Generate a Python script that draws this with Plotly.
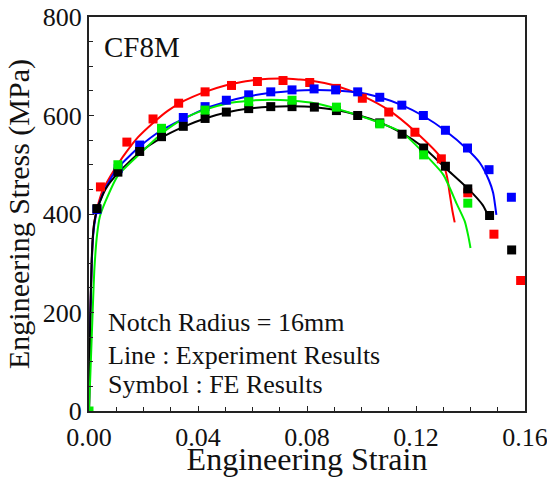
import plotly.graph_objects as go

# ---------------- Experiment (lines) ----------------
red_line_x = [0, 0.0005, 0.001, 0.0015, 0.002, 0.003, 0.005, 0.008, 0.0107, 0.014, 0.018, 0.0235, 0.029, 0.035, 0.0426, 0.05, 0.056, 0.062, 0.0712, 0.077, 0.081, 0.0908, 0.1003, 0.110, 0.1196, 0.1293, 0.1314, 0.1324, 0.1334, 0.1342]
red_line_y = [0, 190, 300, 360, 385, 412, 448, 478, 502, 528, 556, 585, 610, 630, 648, 661, 668, 673, 675, 673, 671, 660, 640, 611, 568, 513, 475, 440, 405, 383]

blue_line_x = [0, 0.0005, 0.001, 0.0015, 0.002, 0.003, 0.005, 0.008, 0.0106, 0.0186, 0.0266, 0.0346, 0.0426, 0.0504, 0.0586, 0.0667, 0.0745, 0.0828, 0.0905, 0.0986, 0.1067, 0.1148, 0.1227, 0.1308, 0.1389, 0.1434, 0.1468, 0.1483, 0.1495]
blue_line_y = [0, 190, 300, 355, 380, 408, 440, 472, 494, 537, 570, 593, 614, 628, 639, 646, 650, 652, 651, 647, 637, 621, 599, 569, 531, 504, 468, 443, 398]

black_line_x = [0, 0.0005, 0.001, 0.0015, 0.002, 0.003, 0.006, 0.0106, 0.0186, 0.0266, 0.0346, 0.0426, 0.0504, 0.0586, 0.0667, 0.0745, 0.0828, 0.0908, 0.0986, 0.1067, 0.1149, 0.1228, 0.1311, 0.139, 0.1445, 0.147]
black_line_y = [0, 200, 310, 360, 385, 410, 450, 483, 525, 555, 577, 594, 606, 614, 618, 619, 617, 611, 601, 586, 564, 535, 492, 452, 418, 390]

green_line_x = [0, 0.001, 0.002, 0.003, 0.004, 0.006, 0.0106, 0.0186, 0.0266, 0.0346, 0.0426, 0.0504, 0.0586, 0.0667, 0.0745, 0.0828, 0.0908, 0.1067, 0.1148, 0.1228, 0.130, 0.135, 0.1379, 0.1392, 0.140]
green_line_y = [0, 150, 290, 360, 395, 425, 478, 522, 563, 593, 612, 624, 630, 632, 630, 625, 614, 585, 566, 524, 480, 420, 385, 355, 331]

# ---------------- FE results (symbols) ----------------
red_fe_x = [0.0042, 0.0139, 0.0235, 0.0329, 0.0426, 0.0523, 0.0618, 0.0712, 0.081, 0.0908, 0.1003, 0.110, 0.1196, 0.1293, 0.139, 0.1486, 0.1584]
red_fe_y = [455, 546, 593, 625, 648, 661, 669, 671, 667, 655, 635, 607, 566, 512, 443, 359, 265]

blue_fe_x = [0.0029, 0.0107, 0.0186, 0.0266, 0.0346, 0.0426, 0.0504, 0.0586, 0.0667, 0.0745, 0.0826, 0.0905, 0.0986, 0.1067, 0.1148, 0.1227, 0.1308, 0.1389, 0.1468, 0.155]
blue_fe_y = [409, 492, 540, 572, 596, 618, 631, 642, 648, 652, 654, 652, 648, 637, 621, 600, 570, 534, 490, 434]

black_fe_x = [0.0029, 0.0106, 0.0186, 0.0266, 0.0346, 0.0426, 0.0504, 0.0586, 0.0667, 0.0745, 0.0827, 0.0908, 0.0986, 0.1067, 0.1149, 0.1228, 0.1308, 0.139, 0.147, 0.1551]
black_fe_y = [411, 485, 527, 557, 578, 594, 607, 614, 618, 618, 617, 610, 600, 585, 562, 534, 497, 451, 397, 327]

green_fe_x = [0, 0.0106, 0.0266, 0.0426, 0.0586, 0.0745, 0.0908, 0.1067, 0.1228, 0.139]
green_fe_y = [0, 500, 574, 611, 628, 631, 617, 583, 520, 422]

x_tick_vals = [0, 0.04, 0.08, 0.12, 0.16]
x_tick_text = ["0.00", "0.04", "0.08", "0.12", "0.16"]
y_tick_vals = [0, 200, 400, 600, 800]
y_tick_text = ["0", "200", "400", "600", "800"]

RED, BLUE, BLACK, GREEN = "#ff0000", "#0000ff", "#000000", "#00ee00"
FONT = "Liberation Serif, Times New Roman, serif"

fig = go.Figure()
for xs, ys, c in [(red_line_x, red_line_y, RED), (blue_line_x, blue_line_y, BLUE),
                  (black_line_x, black_line_y, BLACK), (green_line_x, green_line_y, GREEN)]:
    fig.add_trace(go.Scatter(x=xs, y=ys, mode="lines", line=dict(color=c, width=2, shape="spline", smoothing=0.6),
                             showlegend=False, hoverinfo="skip"))
for xs, ys, c in [(red_fe_x, red_fe_y, RED), (blue_fe_x, blue_fe_y, BLUE),
                  (black_fe_x, black_fe_y, BLACK), (green_fe_x, green_fe_y, GREEN)]:
    fig.add_trace(go.Scatter(x=xs, y=ys, mode="markers", marker=dict(symbol="square", size=9, color=c, line=dict(width=0)),
                             showlegend=False))

axis_common = dict(showgrid=False, zeroline=False, showline=True, linecolor="#222", linewidth=2, mirror=True,
                   ticks="inside", ticklen=5, tickwidth=1, tickcolor="#222", automargin=False,
                   ticklabeloverflow="allow",
                   tickfont=dict(family=FONT, size=26, color="#111"))

fig.update_xaxes(range=[0, 0.16], tickvals=x_tick_vals, ticktext=x_tick_text, ticklabelstandoff=2,
                 minor=dict(dtick=0.01, ticks="inside", ticklen=4, tickcolor="#222"),
                 title=dict(text="Engineering Strain", font=dict(family=FONT, size=32, color="#111"), standoff=7),
                 **axis_common)
fig.update_yaxes(range=[0, 800], tickvals=y_tick_vals, ticktext=y_tick_text,
                 minor=dict(dtick=50, ticks="inside", ticklen=4, tickcolor="#222"),
                 title=dict(text="Engineering Stress (MPa)", font=dict(family=FONT, size=30, color="#111"), standoff=4),
                 **axis_common)

fig.add_annotation(text="CF8M", xref="paper", yref="paper", x=0.030, y=0.923, xanchor="left", yanchor="middle",
                   showarrow=False, font=dict(family=FONT, size=29, color="#111"))
ann_font = dict(family=FONT, size=26, color="#111")
for txt, yy in [("Notch Radius = 16mm", 0.224), ("Line : Experiment Results", 0.140), ("Symbol : FE Results", 0.0675)]:
    fig.add_annotation(text=txt, xref="paper", yref="paper", x=0.040, y=yy, xanchor="left", yanchor="middle",
                       showarrow=False, font=ann_font)

fig.update_layout(width=547, height=477, margin=dict(l=89, r=22, t=17, b=66),
                  plot_bgcolor="white", paper_bgcolor="white", showlegend=False)

fig.write_html("out.html", config={"displayModeBar": False},
               post_script="document.body.style.margin='0';document.body.style.padding='0';")
